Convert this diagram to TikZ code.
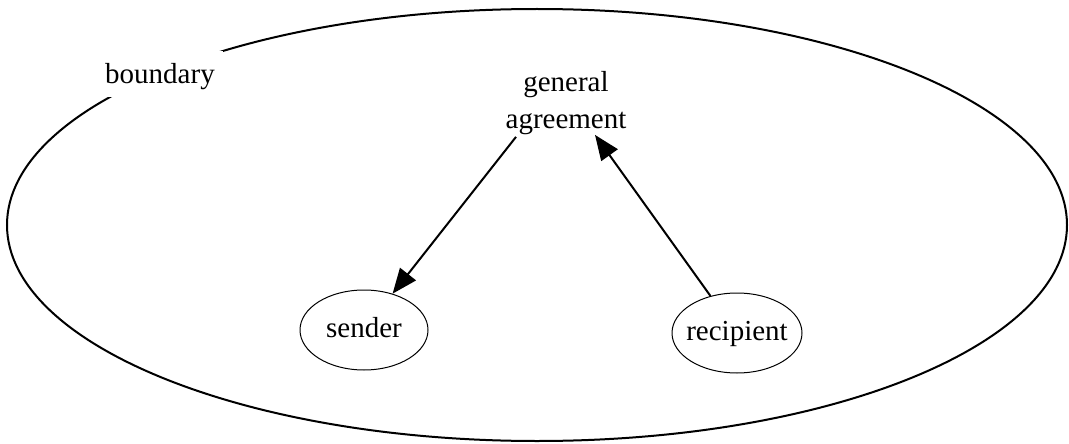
\documentclass[tikz,border=0pt]{standalone}
\usepackage{fontspec}
\setmainfont{Liberation Serif}
\usetikzlibrary{arrows.meta,shapes.geometric}
\begin{document}
\begin{tikzpicture}[x=1pt,y=-1pt,
  lbl/.style={font=\fontsize{29}{37}\selectfont, inner sep=0pt},
  actor/.style={lbl, draw, line width=1pt, ellipse, inner xsep=-6pt,
                text height=20pt, text depth=6pt, minimum height=80pt},
  flow/.style={line width=2pt, -{Triangle[length=25pt,width=20pt]}}]
\useasboundingbox (0,0) rectangle (1069,444);
% system boundary
\draw[line width=2pt] (537,225) ellipse [x radius=530pt, y radius=216pt];
\node[lbl, fill=white, anchor=base, inner xsep=8pt, text height=33pt, text depth=13pt]
  (boundary) at (160,84) {boundary};
% parties and the shared agreement
\node[lbl, align=center] (ga) at (566,103) {general\\agreement};
\node[actor, minimum width=128pt] (sender) at (364,330) {sender};
\node[actor, minimum width=130pt] (recipient) at (737,333) {recipient};
% flows
\draw[flow] ([xshift=-50pt,yshift=-2pt]ga.south) -- (sender);
\draw[flow] (recipient) -- ([xshift=29pt]ga.south);
\end{tikzpicture}
\end{document}
